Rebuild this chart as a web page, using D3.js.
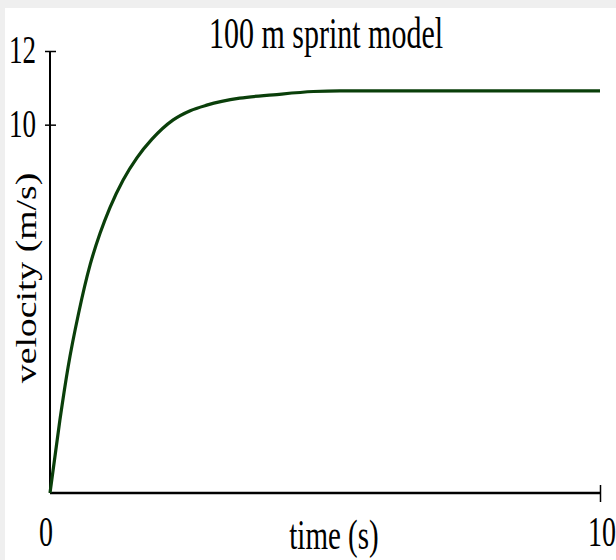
<!DOCTYPE html>
<html>
<head>
<meta charset="utf-8">
<script src="https://cdn.jsdelivr.net/npm/d3@7"></script>
<style>
  body { margin: 0; background: #efefef; }
  svg { display: block; }
  text { font-family: "Liberation Serif", "Times New Roman", serif; fill: #000; }
</style>
</head>
<body>
<script>
const width = 616, height = 560;
const margin = {left: 50, right: 16, top: 51, bottom: 67};

// velocity (time in s, velocity in m/s)
const times =      [0, 0.18, 0.33, 0.52, 0.73, 0.91, 1.09, 1.33, 1.58, 1.85, 2.24, 2.55, 2.85, 3.45, 4.06, 4.79, 5.27, 10];
const velocities = [0, 1.98, 3.43, 4.88, 6.2, 7.05, 7.75, 8.5, 9.1, 9.6, 10.13, 10.38, 10.53, 10.72, 10.81, 10.90, 10.92, 10.92];

const yTicks = [10, 12];
const xTicks = [0, 10];
const title = "100 m sprint model";
const xLabel = "time (s)";
const yLabel = "velocity (m/s)";

const svg = d3.select("body").append("svg")
    .attr("width", width)
    .attr("height", height);

// page background with the grey strip top and left
svg.append("rect")
    .attr("x", 5).attr("y", 8)
    .attr("width", width - 5).attr("height", height - 8)
    .attr("fill", "#fff");

const x = d3.scaleLinear().domain([0, 10]).range([margin.left, width - margin.right]);
const y = d3.scaleLinear().domain([0, 12]).range([height - margin.bottom, margin.top]);

// the text in the picture is drawn taller than it is wide
const stretch = 1.45;

// y axis
const yAxis = svg.append("g")
    .attr("transform", `translate(${x(0)},0)`)
    .call(d3.axisLeft(y).tickValues(yTicks).tickSize(0).tickFormat(""));
yAxis.select(".domain").attr("stroke", "#000").attr("stroke-width", 2).attr("d", `M0,${y(12)}V${y(0)}`);
yAxis.selectAll(".tick").append("line")
    .attr("x1", -5).attr("x2", 6)
    .attr("stroke", "#000").attr("stroke-width", 1.5);

// x axis
const xAxis = svg.append("g")
    .attr("transform", `translate(0,${y(0)})`)
    .call(d3.axisBottom(x).tickValues(xTicks).tickSize(0).tickFormat(""));
xAxis.select(".domain").attr("stroke", "#000").attr("stroke-width", 2.5).attr("d", `M${x(0)},0H${x(10)}`);
xAxis.selectAll(".tick").filter(d => d === 10).append("line")
    .attr("y1", -8).attr("y2", 9)
    .attr("stroke", "#000").attr("stroke-width", 1.5);

// tick labels
svg.selectAll(".ylab")
  .data(yTicks)
  .join("text")
    .attr("class", "ylab")
    .attr("text-anchor", "end")
    .attr("font-size", 27)
    .attr("transform", d => `translate(${x(0) - 14},${y(d) + 12}) scale(1,${stretch})`)
    .text(d => d);

svg.selectAll(".xlab")
  .data(xTicks)
  .join("text")
    .attr("class", "xlab")
    .attr("text-anchor", "middle")
    .attr("font-size", 28)
    .attr("transform", d => `translate(${x(d) - (d === 0 ? 4 : -2)},${y(0) + 53}) scale(1,1.5)`)
    .text(d => d);

// titles
svg.append("text")
    .attr("text-anchor", "middle")
    .attr("font-size", 30)
    .attr("transform", `translate(326,48) scale(1,${stretch})`)
    .text(title);

svg.append("text")
    .attr("text-anchor", "middle")
    .attr("font-size", 29)
    .attr("transform", `translate(334,549) scale(1,${stretch})`)
    .text(xLabel);

svg.append("text")
    .attr("text-anchor", "middle")
    .attr("font-size", 29)
    .attr("transform", `translate(36,278) rotate(-90) scale(1.3,1)`)
    .text(yLabel);

// the curve
const line = d3.line()
    .x((d, i) => x(times[i]))
    .y(d => y(d))
    .curve(d3.curveMonotoneX);

svg.append("path")
    .datum(velocities)
    .attr("fill", "none")
    .attr("stroke", "#0a3f0a")
    .attr("stroke-width", 3.2)
    .attr("d", line);
</script>
</body>
</html>
